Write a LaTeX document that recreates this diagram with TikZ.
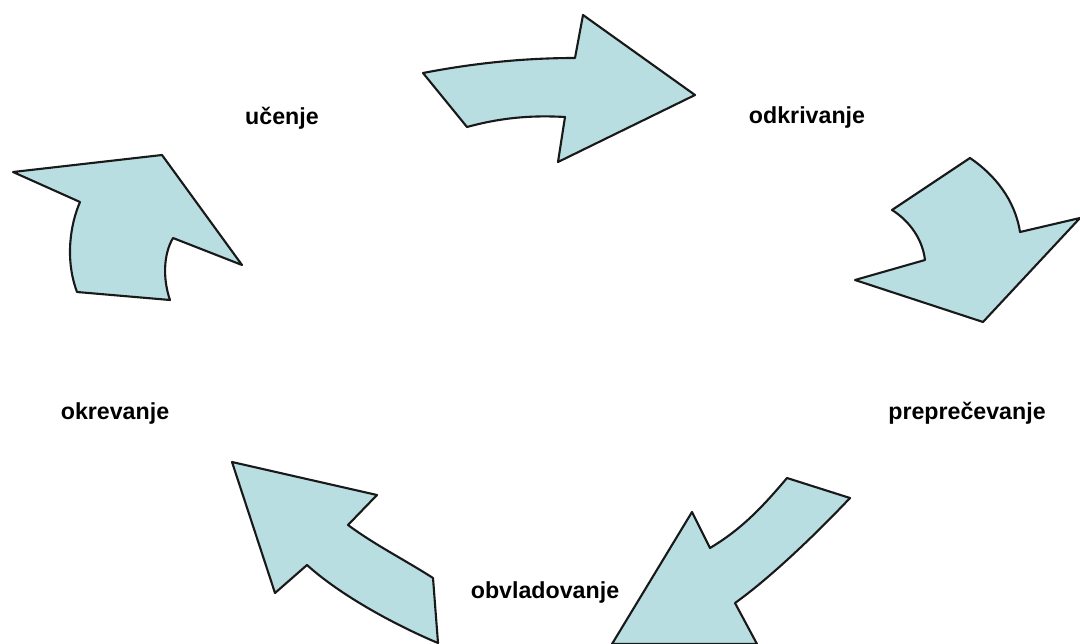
\documentclass[tikz,border=0pt]{standalone}
\usepackage{fontspec}
\setmainfont{Liberation Sans}
\usepackage{xcolor}
\usepackage{tikz}
\usetikzlibrary{positioning}
\definecolor{cycleblue}{RGB}{184,222,226}
\definecolor{cycleline}{RGB}{25,25,25}

\begin{document}
\begin{tikzpicture}[x=0.025cm,y=-0.025cm,
    cyclearrow/.style={fill=cycleblue,draw=cycleline,line width=1.5pt,line join=round},
    steplabel/.style={font=\fontsize{16.5}{18}\selectfont\bfseries,inner sep=0pt}]
  \useasboundingbox (0,0) rectangle (1080,644);
  % labels round the cycle
  \node[steplabel] (ucenje) at (282,118) {učenje};
  \node[steplabel] (odkrivanje) at (807,118) {odkrivanje};
  \node[steplabel] (preprecevanje) at (967,413) {preprečevanje};
  \node[steplabel] (obvladovanje) at (545,592) {obvladovanje};
  \node[steplabel] (okrevanje) at (115,413) {okrevanje};
  % curved block arrows
  \draw[cyclearrow] (423,73) .. controls (480,62) and (530,58) .. (575,58)
    -- (583,15) -- (695,95) -- (558,162) -- (565,117)
    .. controls (530,115) and (500,118) .. (467,127) -- cycle;
  \draw[cyclearrow] (892,210) -- (970,158) .. controls (995,175) and (1015,200) .. (1020,232)
    -- (1080,218) -- (983,322) -- (855,280) -- (925,260)
    .. controls (922,235) and (905,218) .. (892,210) -- cycle;
  \draw[cyclearrow] (787,478) .. controls (760,510) and (740,530) .. (710,548)
    -- (692,512) -- (612,644) -- (757,644) -- (735,603)
    .. controls (770,578) and (815,535) .. (850,498) -- cycle;
  \draw[cyclearrow] (232,462) -- (377,495) -- (348,525)
    .. controls (375,545) and (405,560) .. (433,578) -- (438,643)
    .. controls (395,625) and (340,595) .. (307,565) -- (275,593) -- cycle;
  \draw[cyclearrow] (13,172) -- (162,155) -- (242,265) -- (173,238)
    .. controls (163,255) and (163,280) .. (170,300) -- (77,292)
    .. controls (65,260) and (70,225) .. (80,202) -- cycle;
\end{tikzpicture}
\end{document}
